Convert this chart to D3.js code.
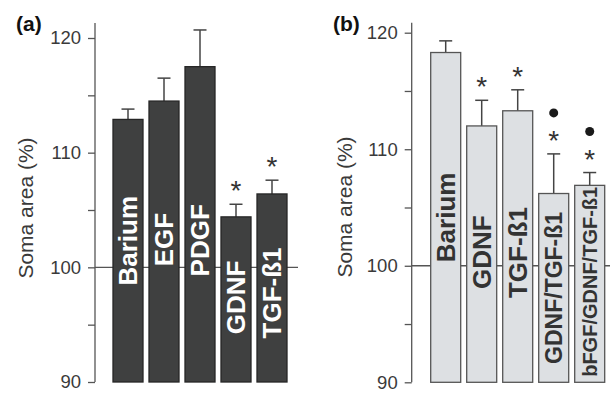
<!DOCTYPE html>
<html>
<head>
<meta charset="utf-8">
<script src="https://cdn.jsdelivr.net/npm/d3@7"></script>
<style>
  html, body { margin: 0; padding: 0; background: #fff; }
  svg { display: block; font-family: "Liberation Sans", Arial, sans-serif; }
</style>
</head>
<body>
<svg id="chart" width="610" height="394"></svg>
<script>
// Panel (a): single growth factors
const catsA = ["Barium", "EGF", "PDGF", "GDNF", "TGF-ß1"];
const meanA = [112.9, 114.5, 117.5, 104.4, 106.4];
const errA  = [0.9, 2.0, 3.2, 1.1, 1.2];
const starA = [false, false, false, true, true];
const dotA  = [false, false, false, false, false];

// Panel (b): factor combinations
const catsB = ["Barium", "GDNF", "TGF-ß1", "GDNF/TGF-ß1", "bFGF/GDNF/TGF-ß1"];
const meanB = [118.3, 112.0, 113.3, 106.2, 106.9];
const errB  = [1.0, 2.2, 1.8, 3.4, 1.1];
const starB = [false, true, true, true, true];
const dotB  = [false, false, false, true, true];

const majorTicks = [90, 100, 110, 120];
const minorTicks = [95, 105, 115];
const yLabel = "Soma area (%)";

const svg = d3.select("#chart");

function panel(cfg) {
  const g = svg.append("g");
  const y = d3.scaleLinear().domain([90, 120]).range([cfg.yBottom, cfg.yTop]);
  const x = d3.scaleBand().domain(cfg.cats).range(cfg.xRange)
    .paddingInner(1 / 6).paddingOuter(1 / 12);

  // reference line at 100 %, behind the bars
  g.append("line")
    .attr("x1", cfg.axisX).attr("x2", cfg.refEnd)
    .attr("y1", y(100)).attr("y2", y(100))
    .attr("stroke", "#555").attr("stroke-width", 1.3);

  // y axis: labelled major ticks plus unlabelled minor ticks
  const ax = g.append("g").attr("transform", `translate(${cfg.axisX},0)`);
  ax.call(d3.axisLeft(y).tickValues(majorTicks).tickSize(7).tickPadding(7).tickFormat(d3.format("d")))
    .call(a => a.select(".domain").remove());
  ax.append("g").call(d3.axisLeft(y).tickValues(minorTicks).tickSize(7).tickFormat(""))
    .call(a => a.select(".domain").remove());
  ax.selectAll("line").attr("stroke", "#555").attr("stroke-width", 1.3);
  ax.selectAll("text").attr("fill", "#3a3a3a").attr("font-size", 18.5)
    .attr("font-family", "'Liberation Sans', Arial, sans-serif");
  ax.append("line").attr("x1", 0).attr("x2", 0)
    .attr("y1", y(90)).attr("y2", y(cfg.axisTopValue))
    .attr("stroke", "#555").attr("stroke-width", 1.3);

  // axis title
  g.append("text")
    .attr("transform", `translate(${cfg.titleX},${cfg.titleY}) rotate(-90)`)
    .attr("text-anchor", "middle")
    .attr("font-size", 21).attr("fill", "#3a3a3a")
    .text(yLabel);

  // panel letter
  g.append("text").attr("x", cfg.letterX).attr("y", 31)
    .attr("font-size", 21).attr("font-weight", "bold").attr("fill", "#111")
    .text(cfg.letter);

  const data = cfg.cats.map((c, i) => ({
    c, m: cfg.mean[i], e: cfg.err[i], star: cfg.star[i], dot: cfg.dot[i], fs: cfg.labelSize[i], shift: cfg.labelShift[i]
  }));

  // error bars
  const eb = g.selectAll(".eb").data(data).join("g").attr("class", "eb");
  eb.append("line")
    .attr("x1", d => x(d.c) + x.bandwidth() / 2).attr("x2", d => x(d.c) + x.bandwidth() / 2)
    .attr("y1", d => y(d.m)).attr("y2", d => y(d.m + d.e))
    .attr("stroke", "#444").attr("stroke-width", 1.5);
  eb.append("line")
    .attr("x1", d => x(d.c) + x.bandwidth() / 2 - 6.5).attr("x2", d => x(d.c) + x.bandwidth() / 2 + 6.5)
    .attr("y1", d => y(d.m + d.e)).attr("y2", d => y(d.m + d.e))
    .attr("stroke", "#444").attr("stroke-width", 1.5);

  // bars
  g.selectAll(".bar").data(data).join("rect").attr("class", "bar")
    .attr("x", d => x(d.c)).attr("width", x.bandwidth())
    .attr("y", d => y(d.m)).attr("height", d => y(90) - y(d.m))
    .attr("fill", cfg.fill).attr("stroke", cfg.stroke).attr("stroke-width", 1.3);

  // category names written inside the bars
  g.selectAll(".lbl").data(data).join("text").attr("class", "lbl")
    .attr("transform", d => {
      const cx = x(d.c) + x.bandwidth() / 2;
      const cy = (y(d.m) + y(90)) / 2 + d.shift;
      return `translate(${cx},${cy}) rotate(-90)`;
    })
    .attr("text-anchor", "middle").attr("dominant-baseline", "central")
    .attr("font-size", d => d.fs).attr("font-weight", "bold")
    .attr("fill", cfg.labelFill)
    .text(d => d.c);

  // significance marks above the error bars
  g.selectAll(".star").data(data.filter(d => d.star)).join("text").attr("class", "star")
    .attr("x", d => x(d.c) + x.bandwidth() / 2)
    .attr("y", d => y(d.m + d.e) - 20 + 16)
    .attr("text-anchor", "middle").attr("font-size", 28).attr("fill", "#333")
    .text("*");
  g.selectAll(".dot").data(data.filter(d => d.dot)).join("circle").attr("class", "dot")
    .attr("cx", d => x(d.c) + x.bandwidth() / 2)
    .attr("cy", d => y(d.m + d.e) - 41)
    .attr("r", 4.5).attr("fill", "#1a1a1a");
}

panel({
  cats: catsA, mean: meanA, err: errA, star: starA, dot: dotA,
  yBottom: 382, yTop: 38, axisX: 95, axisTopValue: 121.3, refEnd: 298,
  xRange: [110, 290], titleX: 33, titleY: 208, letter: "(a)", letterX: 16,
  fill: "#3f4040", stroke: "#262626", labelFill: "#ffffff",
  labelSize: [26, 26, 26, 26, 26], labelShift: [-10, -2, 16, -2, 5]
});

panel({
  cats: catsB, mean: meanB, err: errB, star: starB, dot: dotB,
  yBottom: 382.3, yTop: 32.7, axisX: 411.7, axisTopValue: 120.85, refEnd: 610,
  xRange: [427.7, 607.7], titleX: 352, titleY: 207, letter: "(b)", letterX: 333,
  fill: "#dde0e3", stroke: "#555", labelFill: "#333",
  labelSize: [26, 26, 26, 23, 20], labelShift: [0, -2, 6, 0, -2]
});
</script>
</body>
</html>
